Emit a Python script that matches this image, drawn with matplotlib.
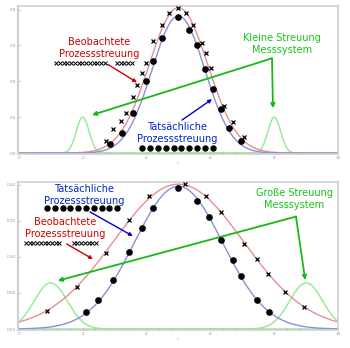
#!/usr/bin/env python3
"""
Messsystemstreuung: beobachtete vs. tatsaechliche Prozessstreuung.
"""

import matplotlib.pyplot as plt
import numpy as np
from matplotlib.ticker import MultipleLocator

RED_LINE = "#e39191"
BLUE_LINE = "#8e8ed8"
GREEN_LINE = "#92e892"
RED_TXT = "#d40000"
BLUE_TXT = "#0026c8"
GREEN_TXT = "#16c516"
GREEN_ARROW = "#18b818"

# curve parameters (peak height, mean, sd)
TOP_ACTUAL = (0.382, 5.0, 0.83)
TOP_OBSERVED = (0.405, 5.0, 0.92)
TOP_GAUGE = [(0.1, 2.0, 0.2), (0.1, 8.0, 0.2)]
BOT_ACTUAL = (0.198, 5.0, 1.38)
BOT_OBSERVED = (0.201, 5.0, 2.03)
BOT_GAUGE = [(0.064, 1.0, 0.52), (0.064, 9.0, 0.52)]

# sample points
TOP_OBS_X = [2.73, 2.95, 3.20, 3.35, 3.57, 3.70, 3.86, 3.98, 4.20, 4.48, 4.70,
             4.98, 5.24, 5.45, 5.74, 5.86, 6.02, 6.43, 6.71, 7.05]
TOP_OBS_Y = [0.033, 0.067, 0.089, 0.111, 0.156, 0.189, 0.222, 0.250, 0.311, 0.358, 0.389,
             0.403, 0.389, 0.358, 0.308, 0.280, 0.236, 0.131, 0.086, 0.044]
TOP_ACT_X = [2.85, 3.23, 3.57, 3.98, 4.20, 4.48, 4.98, 5.33, 5.58, 5.83, 6.08, 6.33, 6.58, 6.96]
TOP_ACT_Y = [0.025, 0.056, 0.111, 0.200, 0.256, 0.322, 0.378, 0.344, 0.300, 0.233, 0.178,
             0.122, 0.069, 0.033]

BOT_OBS_X = [0.88, 1.82, 2.73, 3.45, 4.08, 5.20, 5.86, 6.33, 7.05, 7.46, 7.80, 8.34, 8.93]
BOT_OBS_Y = [0.025, 0.058, 0.106, 0.151, 0.185, 0.201, 0.185, 0.162, 0.118, 0.097, 0.076,
             0.051, 0.031]
BOT_ACT_X = [2.10, 2.47, 2.95, 3.45, 3.86, 4.20, 4.98, 5.58, 5.96, 6.33, 6.71, 6.96, 7.46, 7.84]
BOT_ACT_Y = [0.024, 0.040, 0.068, 0.107, 0.140, 0.168, 0.196, 0.178, 0.156, 0.124, 0.096,
             0.074, 0.040, 0.024]

# marker rows used as little legends under the labels
TOP_XROW_X = list(np.arange(1.17, 2.80, 0.117)) + list(np.arange(3.07, 3.55, 0.117))
TOP_XROW_Y = 0.25
TOP_DOTROW_X = list(np.arange(3.86, 6.10, 0.247))
TOP_DOTROW_Y = 0.014
BOT_XROW_X = list(np.arange(0.22, 1.36, 0.117)) + list(np.arange(1.72, 2.46, 0.117))
BOT_XROW_Y = 0.119
BOT_DOTROW_X = list(np.arange(0.88, 3.10, 0.245))
BOT_DOTROW_Y = 0.168


def gauss(x, params):
    h, mu, sd = params
    return h * np.exp(-0.5 * ((x - mu) / sd) ** 2)


def style_axes(ax, ymax, ystep):
    ax.set_xlim(-0.03, 10.0)
    ax.set_ylim(-0.0025 * ymax / 0.41, ymax)
    ax.xaxis.set_major_locator(MultipleLocator(2))
    ax.xaxis.set_minor_locator(MultipleLocator(0.4))
    ax.yaxis.set_major_locator(MultipleLocator(ystep))
    ax.tick_params(axis="both", which="both", labelsize=3, colors="#909090",
                   length=1.5, width=0.5, direction="in", pad=1.5)
    for side, spine in ax.spines.items():
        spine.set_color("#d0d0d0")
        spine.set_linewidth(1.6 if side == "left" else 1.2)
    ax.set_xlabel("x", fontsize=2.5, color="#a0a0a0", labelpad=1)


def arrow(ax, start, end, color, lw=1.3, scale=5):
    ax.annotate("", xy=end, xytext=start,
                arrowprops=dict(arrowstyle="-|>", color=color, lw=lw,
                                mutation_scale=scale, shrinkA=0, shrinkB=0))


def main() -> None:
    fig = plt.figure(figsize=(3.5, 3.48), dpi=100)
    ax_top = fig.add_axes([0.051, 0.5575, 0.915, 0.4255])
    ax_bot = fig.add_axes([0.051, 0.052, 0.915, 0.425])
    x = np.linspace(0, 10, 600)

    for ax, act, obs, gauges in [
        (ax_top, TOP_ACTUAL, TOP_OBSERVED, TOP_GAUGE),
        (ax_bot, BOT_ACTUAL, BOT_OBSERVED, BOT_GAUGE),
    ]:
        for g in gauges:
            ax.plot(x, gauss(x, g), color=GREEN_LINE, lw=1.0, zorder=1)
        ax.plot(x, gauss(x, obs), color=RED_LINE, lw=1.0, zorder=2)
        ax.plot(x, gauss(x, act), color=BLUE_LINE, lw=1.0, zorder=2)

    text_kw = dict(fontsize=7, ha="center", va="center", linespacing=1.25, zorder=5)

    # upper panel: small gauge spread
    ax_top.plot(TOP_OBS_X, TOP_OBS_Y, "x", color="black", ms=2.6, mew=0.9, zorder=4)
    ax_top.plot(TOP_ACT_X, TOP_ACT_Y, "o", color="black", ms=3.8, zorder=4)
    ax_top.plot(TOP_XROW_X, [TOP_XROW_Y] * len(TOP_XROW_X), "x", color="black",
                ms=2.2, mew=0.7, zorder=4)
    ax_top.plot(TOP_DOTROW_X, [TOP_DOTROW_Y] * len(TOP_DOTROW_X), "o", color="black",
                ms=3.6, zorder=4)
    ax_top.text(2.51, 0.292, "Beobachtete\nProzessstreuung", color=RED_TXT, **text_kw)
    ax_top.text(4.95, 0.055, "Tatsächliche\nProzessstreuung", color=BLUE_TXT, **text_kw)
    ax_top.text(8.24, 0.303, "Kleine Streuung\nMesssystem", color=GREEN_TXT, **text_kw)
    arrow(ax_top, (2.79, 0.247), (3.70, 0.197), "#cc0000", lw=1.0)
    arrow(ax_top, (5.11, 0.092), (6.05, 0.150), "#0000cc", lw=1.0)
    arrow(ax_top, (7.93, 0.264), (2.29, 0.106), GREEN_ARROW, scale=6)
    arrow(ax_top, (7.93, 0.264), (7.96, 0.125), GREEN_ARROW, scale=6)
    style_axes(ax_top, 0.41, 0.1)

    # lower panel: large gauge spread
    ax_bot.plot(BOT_OBS_X, BOT_OBS_Y, "x", color="black", ms=2.6, mew=0.9, zorder=4)
    ax_bot.plot(BOT_ACT_X, BOT_ACT_Y, "o", color="black", ms=3.8, zorder=4)
    ax_bot.plot(BOT_XROW_X, [BOT_XROW_Y] * len(BOT_XROW_X), "x", color="black",
                ms=2.2, mew=0.7, zorder=4)
    ax_bot.plot(BOT_DOTROW_X, [BOT_DOTROW_Y] * len(BOT_DOTROW_X), "o", color="black",
                ms=3.6, zorder=4)
    ax_bot.text(2.04, 0.186, "Tatsächliche\nProzessstreuung", color=BLUE_TXT, **text_kw)
    ax_bot.text(1.44, 0.140, "Beobachtete\nProzessstreuung", color=RED_TXT, **text_kw)
    ax_bot.text(8.62, 0.180, "Große Streuung\nMesssystem", color=GREEN_TXT, **text_kw)
    arrow(ax_bot, (1.50, 0.118), (2.32, 0.097), "#cc0000", lw=1.0)
    arrow(ax_bot, (2.23, 0.1625), (3.57, 0.129), "#0000cc", lw=1.0)
    arrow(ax_bot, (8.68, 0.156), (1.22, 0.067), GREEN_ARROW, scale=6)
    arrow(ax_bot, (8.68, 0.156), (8.97, 0.068), GREEN_ARROW, scale=6)
    style_axes(ax_bot, 0.204, 0.05)

    fig.savefig("out.png", dpi=100)
    plt.close(fig)


if __name__ == "__main__":
    main()
